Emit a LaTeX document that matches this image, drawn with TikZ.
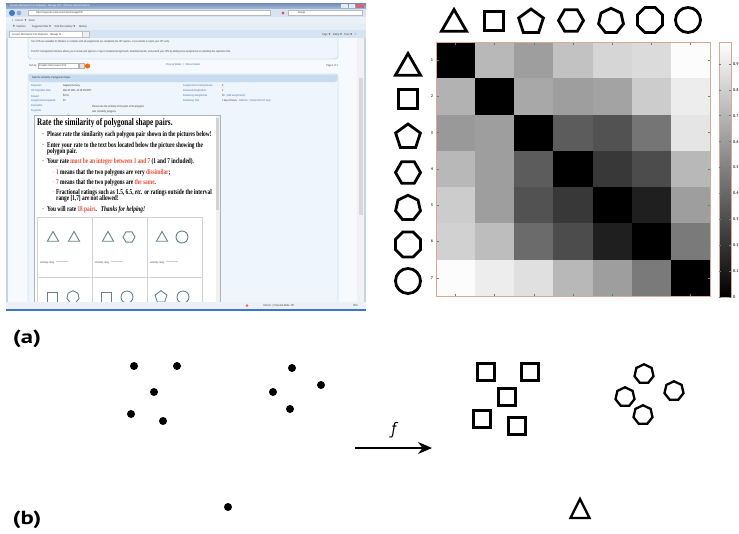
\documentclass[tikz,border=0pt]{standalone}
\usepackage{amssymb}
\usepackage{fontspec}
\setmainfont{Liberation Serif}
\setsansfont{PT Sans}
\newfontfamily\shotserif[FakeStretch=0.72]{Liberation Serif}
\newfontfamily\shotsans[FakeStretch=0.8]{Liberation Sans}
\newfontfamily\panelfont[FakeStretch=1.3]{PT Sans}
\usetikzlibrary{arrows.meta,positioning,shapes.geometric,calc}
\definecolor{winframe}{RGB}{196,213,234}
\definecolor{titletop}{RGB}{112,140,178}
\definecolor{titlebot}{RGB}{165,188,216}
\definecolor{barbg}{RGB}{214,227,242}
\definecolor{barbgl}{RGB}{236,241,248}
\definecolor{pagebg}{RGB}{246,249,253}
\definecolor{panelline}{RGB}{160,192,228}
\definecolor{panelhead}{RGB}{200,219,240}
\definecolor{panelbg}{RGB}{239,245,252}
\definecolor{linkblue}{RGB}{60,110,180}
\definecolor{winblue}{RGB}{60,120,196}
\definecolor{shotred}{RGB}{236,76,58}
\definecolor{slate}{RGB}{100,130,145}
\definecolor{mframe}{RGB}{215,170,150}
\definecolor{mtick}{RGB}{60,140,155}

\begin{document}
\begin{tikzpicture}[x=1pt,y=-1pt,
  chrome/.style={font=\shotsans\fontsize{2.8}{3}\selectfont, inner sep=0pt, anchor=west, text=black!75},
  infolab/.style={chrome, text=linkblue},
  hitline/.style={font=\shotserif\bfseries\fontsize{7.4}{7.4}\selectfont, inner sep=0pt, anchor=west},
  hittitle/.style={font=\shotserif\bfseries\fontsize{10}{10}\selectfont, inner sep=0pt, anchor=west},
  pairshape/.style={draw=slate, line width=0.9pt, inner sep=0pt},
  bigpoly/.style={regular polygon, draw, line width=2.8pt, inner sep=0pt},
  bigcirc/.style={circle, draw, line width=2.8pt, inner sep=0pt, minimum size=25pt},
  rowlab/.style={font=\sffamily\bfseries\fontsize{4}{4}\selectfont, text=black!75, inner sep=0pt},
  barlab/.style={font=\sffamily\bfseries\fontsize{4}{4}\selectfont, text=black!75, inner sep=0pt, anchor=west},
  dotmark/.style={circle, fill, inner sep=0pt, minimum size=8pt},
  sqmark/.style={rectangle, draw, line width=2.3pt, inner sep=0pt, minimum size=17pt},
  heptmark/.style={regular polygon, regular polygon sides=7, draw, line width=2.3pt, inner sep=0pt, minimum size=19.5pt},
  panellab/.style={font=\panelfont\bfseries\fontsize{19}{19}\selectfont, inner sep=0pt},
  maparrow/.style={line width=1.3pt, -{Stealth[length=14pt, width=12pt]}}
]
\useasboundingbox (0,0) rectangle (739,533);
\fill[white] (0,0) rectangle (739,533);

% ---------------- screenshot of the rating task ----------------
\fill[winframe] (6,3) rectangle (366,310);
\fill[pagebg] (8,30) rectangle (357,302);

% top notice panel
\draw[panelline, fill=panelbg, rounded corners=3pt] (28,30) rectangle (338,59);
\node[chrome] (note1) at (31,42) {Your HITs are available for Workers to complete until all assignments are completed, the HIT expires, or you decide to expire your HIT early.};
\node[chrome] (note2) at (31,52) {The HIT management interface allows you to review and approve or reject completed assignments, download results, and extend your HITs by adding more assignments or extending the expiration time.};

% sort row
\node[chrome] (sortby) at (29,66) {Sort by:};
\draw[gray!60, fill=white] (38,63.5) rectangle (78,68.5);
\node[chrome] (sortval) at (39,66) {Creation Date (newest first)};
\draw[gray!60, fill=gray!20] (79,63.5) rectangle (84,68.5);
\fill[orange!80!red] (87.5,66) circle (2.6);
\node[chrome, anchor=center, text=linkblue] (details) at (183,65) {Show all details \enspace|\enspace Hide all details};
\node[chrome, anchor=east] (pageof) at (338,66) {Page 1 of 1};

% main HIT panel
\draw[panelline, fill=panelbg, rounded corners=3pt] (28,74) rectangle (338,308);
\fill[panelhead, rounded corners=3pt] (28.5,74.5) rectangle (337.5,82);
\node[chrome, text=black!80] (hithead) at (32,78) {Rate the similarity of polygonal shapes};
\foreach \y/\lab in {86/Requester, 91/HIT Expiration Date, 96/Reward, 101/Assignments Requested, 106/Description, 111/Keywords}
  \node[infolab] (ll\y) at (31,\y) {\lab};
\foreach \y/\lab in {86/Gagany Demeny, 91/{Mar 30 2011, 01:18 PM PDT}, 96/\$0.05, 101/50}
  \node[chrome, text=black!80] (lv\y) at (63,\y) {\lab};
\node[chrome, text=black!80] (descval) at (92,107) {Please rate the similarity of the pairs of the polygons};
\node[chrome, text=black!80] (keyval) at (92,111.5) {rate, similarity, polygons};
\foreach \y/\lab in {86/Assignments Pending Review, 91/Reviewed Assignments, 96/Remaining Assignments, 101/Remaining Time}
  \node[infolab] (rl\y) at (183,\y) {\lab};
\node[chrome, text=black!80] (rv86) at (222,86) {0};
\node[chrome, text=black!80] (rv91) at (222,91) {0};
\node[chrome, text=black!80] (rv96) at (222,96) {50 \enspace\textcolor{linkblue}{(Add assignments)}};
\node[chrome, text=black!80] (rv101) at (222,101) {1 day 23 hours \enspace\textcolor{linkblue}{Add time \,|\, Expire this HIT early}};

% embedded task page
\draw[gray!60, fill=white] (34,115) rectangle (220,308);
\fill[gray!12] (215.5,115.5) rectangle (219.5,302);
\fill[gray!35] (216,118) rectangle (219,210);
\node[hittitle] (htitle) at (37,123) {Rate the similarity of polygonal shape pairs.};
\foreach \y/\k in {135/1, 146/2, 162/3, 210/4}
  \node[hitline, font=\shotserif\fontsize{4}{4}\selectfont] (bul\k) at (42.5,\y) {\textbullet};
\foreach \y/\k in {173/1, 183/2, 193/3}
  \node[hitline, font=\shotserif\fontsize{3.5}{4}\selectfont, text=black!70] (sub\k) at (52.5,\y) {\textbullet};
\node[hitline] (hb1) at (47,135) {Please rate the similarity each polygon pair shown in the pictures below!};
\node[hitline] (hb2a) at (47,146) {Enter your rate to the text box located below the picture showing the};
\node[hitline] (hb2b) at (47,152) {polygon pair.};
\node[hitline] (hb3) at (47,162) {Your rate \textcolor{shotred}{must be an integer between 1 and 7} (1 and 7 included).};
\node[hitline] (hs1) at (56,173) {\textcolor{shotred}{1} means that the two polygons are very \textcolor{shotred}{dissimilar};};
\node[hitline] (hs2) at (56,183) {\textcolor{shotred}{7} means that the two polygons are \textcolor{shotred}{the same}.};
\node[hitline] (hs3a) at (56,193) {Fractional ratings such as 1.5, 6.5, \textit{etc.} or ratings outside the interval};
\node[hitline] (hs3b) at (56,199) {range [1,7] are not allowed!};
\node[hitline] (hb4) at (47,210) {You will rate \textcolor{shotred}{18 pairs}.\enspace \textit{Thanks for helping!}};

% grid of shape pairs
\begin{scope}
\clip (34,115) rectangle (215,302);
\draw[gray!35] (37,217) rectangle (202,330);
\draw[gray!35] (92,217) -- (92,330) (147,217) -- (147,330) (37,277) -- (202,277);
\foreach \x/\k in {40/1, 95/2, 150/3} {
  \node[chrome, font=\shotsans\fontsize{2.6}{3}\selectfont] (rate\k) at (\x,263) {similarity rating:};
  \draw[gray!40] (rate\k.east) ++(1.5,-1.5) -- ++(12,0);
}
\node[pairshape, regular polygon, regular polygon sides=3, minimum size=13pt] (pa1) at (53,238) {};
\node[pairshape, regular polygon, regular polygon sides=3, minimum size=13pt] (pa2) at (74,238) {};
\node[pairshape, regular polygon, regular polygon sides=3, minimum size=13pt] (pb1) at (108,238) {};
\node[pairshape, regular polygon, regular polygon sides=6, minimum size=12pt] (pb2) at (129,237) {};
\node[pairshape, regular polygon, regular polygon sides=3, minimum size=13pt] (pc1) at (162,238) {};
\node[pairshape, circle, minimum size=12pt] (pc2) at (182,237) {};
\node[pairshape, regular polygon, regular polygon sides=4, minimum size=14pt] (pd1) at (52,297) {};
\node[pairshape, regular polygon, regular polygon sides=7, minimum size=12.5pt] (pd2) at (73,297) {};
\node[pairshape, regular polygon, regular polygon sides=4, minimum size=14pt] (pe1) at (106,297) {};
\node[pairshape, circle, minimum size=12pt] (pe2) at (127,297) {};
\node[pairshape, regular polygon, regular polygon sides=5, minimum size=12.5pt] (pf1) at (161,297) {};
\node[pairshape, circle, minimum size=12pt] (pf2) at (183,297) {};
\end{scope}

% browser scrollbar
\fill[gray!10] (357,38) rectangle (364,302);
\fill[gray!30] (358.5,78) rectangle (362.5,215);

% browser chrome
\shade[top color=titletop, bottom color=titlebot] (6,3) rectangle (366,9);
\node[chrome, text=white] (wtitle) at (10,6) {Amazon Mechanical Turk Requester - Manage HITs - Windows Internet Explorer};
\fill[white!70!titlebot] (341,3.5) rectangle (348,8);
\fill[white!70!titlebot] (349,3.5) rectangle (355,8);
\fill[red!45!titlebot] (356,3.5) rectangle (364,8);
\fill[barbg] (6,9) rectangle (366,17);
\fill[winblue] (12,13) circle (3);
\fill[winblue!60] (19,13) circle (2.4);
\draw[gray!55, fill=white] (28,10.5) rectangle (270,15.5);
\node[chrome] (addr) at (36,13) {https://requester.mturk.com/mturk/manageHITs};
\fill[red!70] (283,13) circle (1.6);
\draw[gray!55, fill=white] (288,10.5) rectangle (362,15.5);
\node[chrome] (search) at (298,13) {Google};
\fill[barbgl] (6,17) rectangle (366,23);
\node[chrome] (tb1) at (12,20) {x \enspace Convert \,$\blacktriangledown$ \enspace Select};
\fill[barbgl!70!barbg] (6,23) rectangle (366,30);
\node[chrome] (tb2) at (12,26.5) {$\star$ Favorites \qquad Suggested Sites $\blacktriangledown$ \quad Web Slice Gallery $\blacktriangledown$ \quad desktop};
\fill[barbg] (6,30) rectangle (366,38);
\draw[gray!50, fill=white] (9,31) rectangle (82,37.5);
\draw[gray!50, fill=barbgl] (82,31) rectangle (89,37.5);
\node[chrome] (tab) at (12,34.3) {Amazon Mechanical Turk Requester - Manage HI...};
\node[chrome, anchor=east] (tools) at (356,34.3) {Page $\blacktriangledown$ \enspace Safety $\blacktriangledown$ \enspace Tools $\blacktriangledown$ \enspace ?};

% status bar
\fill[barbgl] (6,302) rectangle (366,309);
\fill[winblue] (6,309) rectangle (366,310.5);
\node[chrome] (status) at (263,305.5) {Internet \,|\, Protected Mode: Off};
\node[chrome, anchor=east] (zoomlev) at (358,305.5) {85\%};
\fill[red!60] (247,305.5) circle (1.5);

% ---------------- similarity matrix ----------------
\def\cellw{39.14}
\def\cellh{36.29}
\foreach \row [count=\i] in {
  {0,.72,.62,.76,.84,.86,.99},
  {.70,0,.66,.62,.64,.80,.93},
  {.60,.62,0,.36,.32,.46,.90},
  {.72,.62,.36,0,.22,.30,.72},
  {.80,.62,.32,.22,0,.12,.62},
  {.82,.74,.42,.30,.12,0,.48},
  {.99,.93,.88,.72,.62,.48,0}} {
  \foreach \v [count=\j] in \row {
    \pgfmathsetmacro\blk{100*(1-\v)}
    \fill[black!\blk] ({436+(\j-1)*\cellw},{42+(\i-1)*\cellh}) rectangle ++(\cellw,\cellh);
  }
}
\foreach \k in {1,...,7} {
  \draw[mtick, line width=0.6pt] ({436+(\k-0.5)*\cellw},42) -- ++(0,2.5);
  \draw[mtick, line width=0.6pt] ({436+(\k-0.5)*\cellw},296) -- ++(0,-2.5);
  \draw[mtick, line width=0.6pt] (436,{42+(\k-0.5)*\cellh}) -- ++(2.5,0);
  \draw[mtick, line width=0.6pt] (710,{42+(\k-0.5)*\cellh}) -- ++(-2.5,0);
  \node[rowlab] (rowno\k) at (432,{42+(\k-0.5)*\cellh}) {\k};
}
\draw[mframe, line width=0.6pt] (436,42) rectangle (710,296);

% colour bar
\shade[bottom color=black, top color=white] (719,42) rectangle (731,297);
\draw[mframe, line width=0.6pt] (719,42) rectangle (731,297);
\begin{scope}
\clip (712,30) rectangle (739,310);
\foreach \t [count=\k from 0] in {0,0.1,0.2,0.3,0.4,0.5,0.6,0.7,0.8,0.9} {
  \draw[mtick, line width=0.5pt] (719,{297-\k*25.9}) -- ++(2,0);
  \draw[mtick, line width=0.5pt] (731,{297-\k*25.9}) -- ++(-2,0);
  \node[barlab] (bar\k) at (733,{297-\k*25.9}) {\t};
}
\end{scope}

% shape headers
\foreach \n/\x/\y/\s in {3/454/24/29, 4/494/21/27, 5/531/22/26, 6/571/20.5/25, 7/611/21/25.5, 8/650/20/27}
  \node[bigpoly, regular polygon sides=\n, minimum size=\s] (top\n) at (\x,\y) {};
\node[bigcirc] (top0) at (688,20) {};
\foreach \n/\y/\s in {3/68/29, 4/99/27, 5/137/26, 6/172.5/25, 7/208/25.5, 8/244.5/27}
  \node[bigpoly, regular polygon sides=\n, minimum size=\s] (left\n) at (408,\y) {};
\node[bigcirc] (left0) at (408,281) {};

% ---------------- panel labels ----------------
\node[panellab] (lab-a) at (27,338.5) {(a)};
\node[panellab] (lab-b) at (27,519.5) {(b)};

% input points
\foreach \p [count=\k] in {(134,366),(177,366),(154,392),(131,414),(163,421),(292,368),(321,385),(273,392),(290,409),(228,507)}
  \node[dotmark] (pt\k) at \p {};

% mapping f
\coordinate (fstart) at (355,448);
\coordinate (fend) at (432,448);
\draw[maparrow] (fstart) -- (fend) node[midway, above=9pt, inner sep=0pt, font=\sffamily\itshape\fontsize{17}{17}\selectfont] (flab) {f};

% mapped shapes
\foreach \p [count=\k] in {(486,372),(530,372),(507,397),(482,419),(517,426)}
  \node[sqmark] (sq\k) at \p {};
\foreach \p [count=\k] in {(644,374),(674,391),(625,397),(643,415)}
  \node[heptmark] (hp\k) at \p {};
\draw[line width=2.4pt, line join=miter] (580,499) -- (589.5,518) -- (570.5,518) -- cycle;

\end{tikzpicture}
\end{document}
